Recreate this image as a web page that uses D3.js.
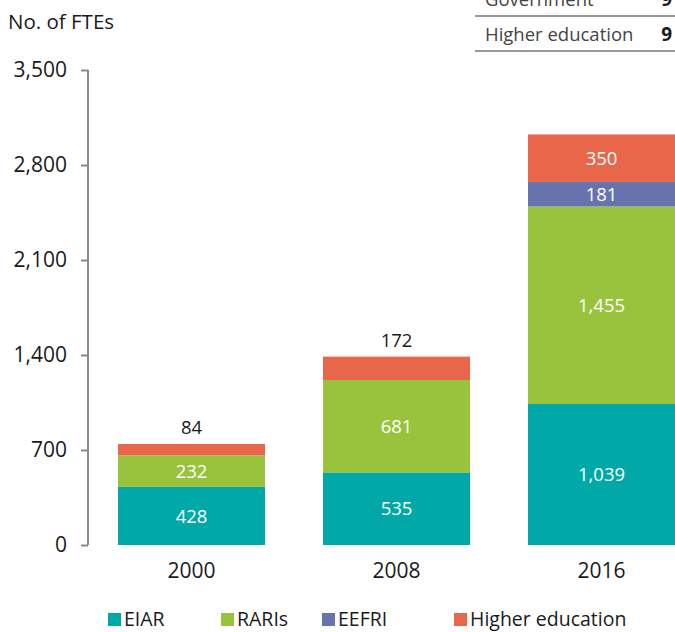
<!DOCTYPE html>
<html lang="en">
<head>
<meta charset="UTF-8">
<title>No. of FTEs</title>
<script src="https://d3js.org/d3.v7.min.js"></script>
<style>
    body { margin: 0; background: #fff; font-family: "Open Sans", "Noto Sans", sans-serif; }
    text { fill: #1a1a1a; }
</style>
</head>
<body>
<div id="chart"></div>
<script>
// data
const years = ["2000", "2008", "2016"];
const seriesNames = ["EIAR", "RARIs", "EEFRI", "Higher education"];
const eiar = [428, 535, 1039];
const raris = [232, 681, 1455];
const eefri = [0, 0, 181];
const higherEd = [84, 172, 350];
const yTicks = [0, 700, 1400, 2100, 2800, 3500];
const tableRows = ["Government", "Higher education"];
const tableValues = [9, 9];

const colors = ["#00a8a8", "#99c23d", "#6673ae", "#e8664a"];

const width = 675, height = 632;
const svg = d3.select("#chart").append("svg")
    .attr("width", width).attr("height", height);

const rows = years.map((y, i) => ({
    year: y, EIAR: eiar[i], RARIs: raris[i], EEFRI: eefri[i], "Higher education": higherEd[i]
}));
const stacked = d3.stack().keys(seriesNames)(rows);

const y = d3.scaleLinear().domain([0, 3500]).range([545, 70]);
const x = d3.scaleBand().domain(years).range([89, 704])
    .paddingInner(0.283).paddingOuter(0.1415);

// y axis
const yAxis = svg.append("g")
    .attr("transform", "translate(88,0)")
    .call(d3.axisLeft(y).tickValues(yTicks).tickSize(7).tickPadding(14)
        .tickFormat(d => d3.format(",")(d)));
yAxis.select(".domain").attr("stroke", "#8a8a8a").attr("stroke-width", 2)
    .attr("d", "M0," + y(0) + "V" + y(3500));
yAxis.selectAll(".tick line").attr("stroke", "#8a8a8a").attr("stroke-width", 2);
yAxis.selectAll(".tick text").attr("font-size", 21).attr("fill", "#1a1a1a")
    .attr("font-family", "'Open Sans', sans-serif");

svg.append("text").attr("x", 8).attr("y", 29).attr("font-size", 20.5).text("No. of FTEs");

// bars
const layer = svg.append("g").selectAll("g").data(stacked).enter().append("g")
    .attr("fill", (d, i) => colors[i]);
layer.selectAll("rect").data(d => d).enter().append("rect")
    .attr("x", d => x(d.data.year))
    .attr("width", x.bandwidth())
    .attr("y", d => y(d[1]))
    .attr("height", d => y(d[0]) - y(d[1]));

// value labels: small top segments are labelled above the bar
const last = seriesNames.length - 1;
stacked.forEach((s, si) => {
    s.forEach(d => {
        const v = d[1] - d[0];
        if (v <= 0) return;
        const h = y(d[0]) - y(d[1]);
        const inside = !(si === last && h < 30);
        svg.append("text")
            .attr("x", x(d.data.year) + x.bandwidth() / 2)
            .attr("y", inside ? (y(d[0]) + y(d[1])) / 2 : y(d[1]) - 10)
            .attr("dy", inside ? "0.36em" : "0")
            .attr("text-anchor", "middle")
            .attr("font-size", 18.5)
            .style("fill", inside ? "#fff" : "#1a1a1a")
            .text(d3.format(",")(v));
    });
});

// x labels
svg.append("g").selectAll("text").data(years).enter().append("text")
    .attr("x", d => x(d) + x.bandwidth() / 2)
    .attr("y", 578)
    .attr("text-anchor", "middle")
    .attr("font-size", 21)
    .text(d => d);

// legend
const legendX = [108, 221, 322, 454];
const legend = svg.append("g").selectAll("g").data(seriesNames).enter().append("g")
    .attr("transform", (d, i) => "translate(" + legendX[i] + ",613)");
legend.append("rect").attr("width", 13).attr("height", 13).attr("y", 0)
    .attr("fill", (d, i) => colors[i]);
legend.append("text").attr("x", 16).attr("y", 13).attr("font-size", 19.5).text(d => d);

// table fragment at top right
const table = svg.append("g");
tableRows.forEach((r, i) => {
    const base = 6 + i * 35;
    table.append("text").attr("x", 485).attr("y", base).attr("font-size", 18.5)
        .style("fill", "#444").text(r);
    table.append("text").attr("x", 672).attr("y", base).attr("font-size", 19)
        .attr("text-anchor", "end").attr("font-weight", "bold").text(tableValues[i]);
    table.append("line").attr("x1", 475).attr("x2", 675)
        .attr("y1", base + 10).attr("y2", base + 10)
        .attr("stroke", "#9a9a9a").attr("stroke-width", 2);
});
</script>
</body>
</html>
